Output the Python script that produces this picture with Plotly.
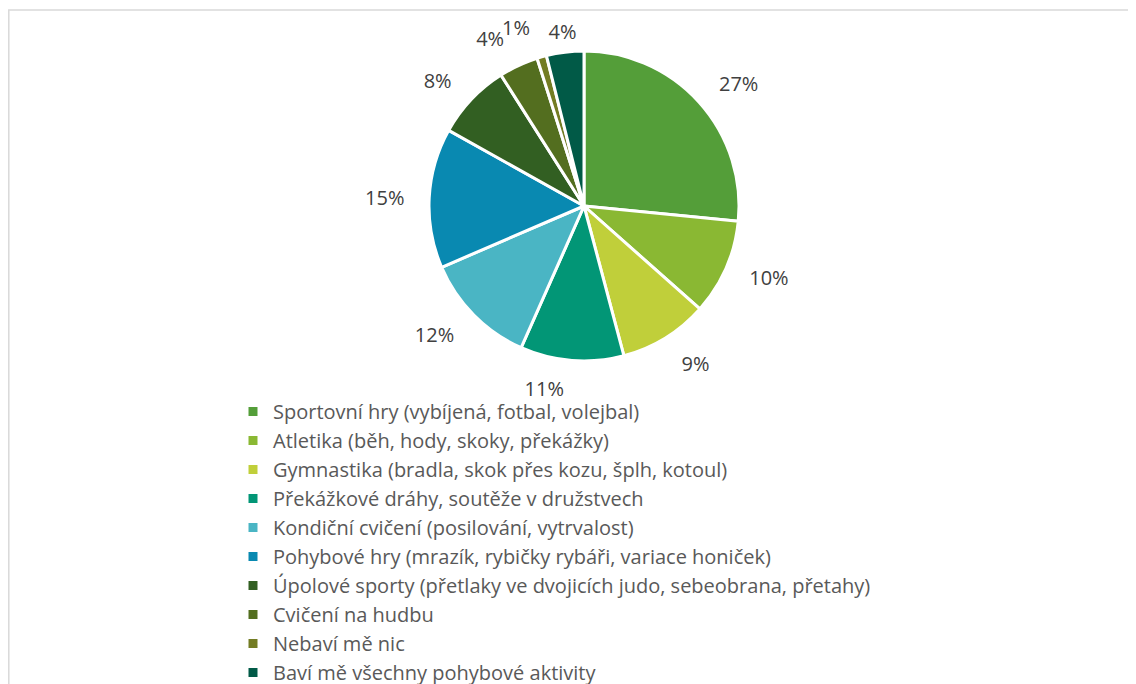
import plotly.graph_objects as go

labels = [
    "Sportovní hry (vybíjená, fotbal, volejbal)",
    "Atletika (běh, hody, skoky, překážky)",
    "Gymnastika (bradla, skok přes kozu, šplh, kotoul)",
    "Překážkové dráhy, soutěže v družstvech",
    "Kondiční cvičení (posilování, vytrvalost)",
    "Pohybové hry (mrazík, rybičky rybáři, variace honiček)",
    "Úpolové sporty (přetlaky ve dvojicích judo, sebeobrana, přetahy)",
    "Cvičení na hudbu",
    "Nebaví mě nic",
    "Baví mě všechny pohybové aktivity",
]
values = [26.6, 10.0, 9.3, 10.8, 11.9, 14.6, 7.9, 4.1, 1.0, 3.9]
colors = ["#549E39", "#8AB833", "#C0CF3A", "#029676", "#4AB5C4", "#0989B1",
          "#325F22", "#536E1F", "#737C23", "#015A47"]
# which label layer carries each slice's percentage (keeps crowded labels apart)
label_layer = [0, 0, 0, 3, 0, 0, 0, 0, 1, 2]

W, H = 1136, 684
OFF = 8  # page body margin
cx, cy, r = 584 - OFF, 206 - OFF, 155
layer_radius = {0: 173, 1: 173, 3: 170}  # invisible pies carrying outside labels
rring = 181.5  # invisible thin ring carrying the last label inside it

def dom(rad):
    return dict(x=[(cx - rad) / W, (cx + rad) / W],
                y=[1 - (cy + rad) / H, 1 - (cy - rad) / H])

lab_font = dict(family="Open Sans", size=20, color="#404040")
clear = ["rgba(0,0,0,0)"] * len(values)

fig = go.Figure()
fig.add_trace(go.Pie(
    labels=labels, values=values, sort=False, direction="clockwise", rotation=0,
    marker=dict(colors=colors, line=dict(color="white", width=3)),
    textinfo="none", domain=dom(r), hoverinfo="label+percent",
))
for layer, rad in layer_radius.items():
    fig.add_trace(go.Pie(
        labels=labels, values=values, sort=False, direction="clockwise", rotation=0,
        marker=dict(colors=clear, line=dict(width=0)),
        textposition=["outside" if l == layer else "none" for l in label_layer],
        texttemplate="%{percent:.0%}",
        outsidetextfont=lab_font,
        domain=dom(rad), showlegend=False, hoverinfo="skip",
    ))
fig.add_trace(go.Pie(
    labels=labels, values=values, sort=False, direction="clockwise", rotation=0,
    marker=dict(colors=clear, line=dict(width=0)),
    textposition=["inside" if l == 2 else "none" for l in label_layer],
    insidetextorientation="horizontal",
    texttemplate="%{percent:.0%}",
    insidetextfont=lab_font, hole=0.94,
    domain=dom(rring), showlegend=False, hoverinfo="skip",
))

fig.update_layout(
    width=W, height=H,
    margin=dict(l=0, r=0, t=0, b=0, autoexpand=False),
    paper_bgcolor="white", plot_bgcolor="white",
    uniformtext=dict(minsize=20, mode="show"),
    legend=dict(x=(233 - OFF) / W, y=1 - (392 - OFF) / H, xanchor="left", yanchor="top",
                font=dict(family="Open Sans", size=20, color="#595959"),
                bgcolor="rgba(0,0,0,0)", maxheight=700),
    shapes=[dict(type="rect", xref="paper", yref="paper",
                 x0=0.8 / W, x1=1.05, y0=-0.05, y1=1 - (10 - OFF) / H,
                 line=dict(color="#D9D9D9", width=1.5), fillcolor="rgba(0,0,0,0)")],
)
fig.write_html("out.html")
